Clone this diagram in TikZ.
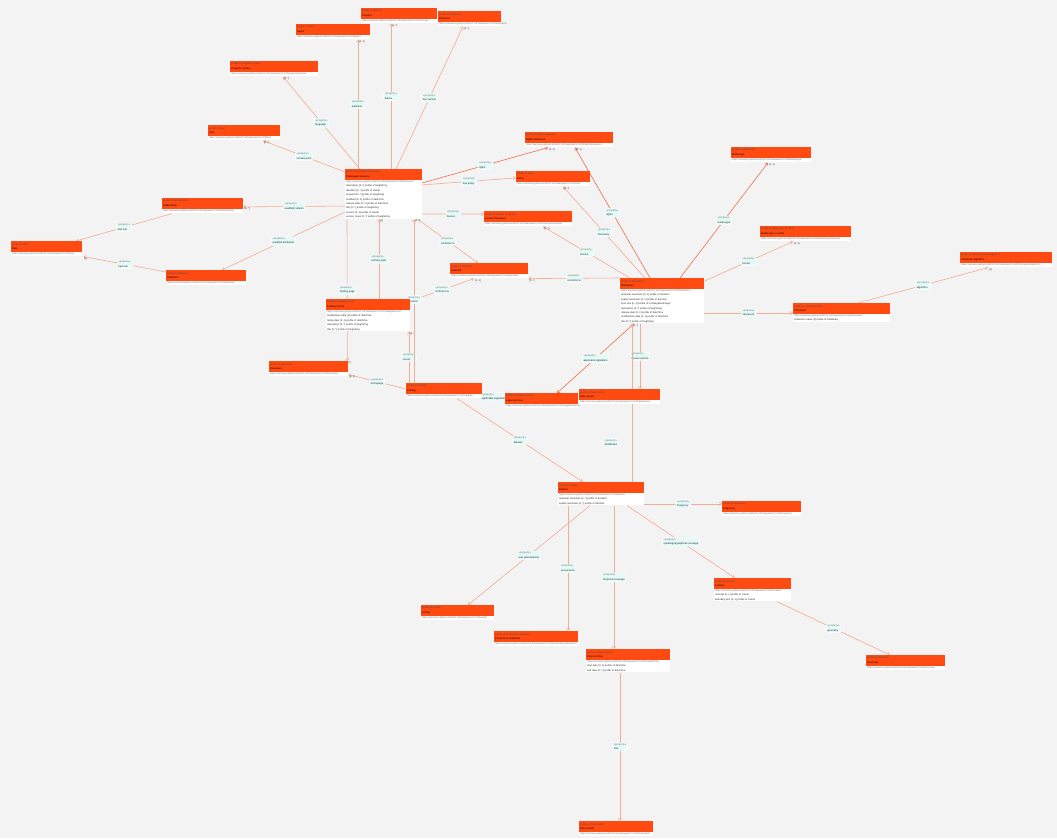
\documentclass[tikz,border=0pt]{standalone}
\usepackage{fontspec}
\newfontfamily\shapefam{Liberation Sans}
\usetikzlibrary{arrows.meta,backgrounds}

\definecolor{canvas}{RGB}{242,243,242}
\definecolor{shapeorange}{RGB}{255,74,18}
\definecolor{relcolor}{RGB}{244,172,150}
\definecolor{hotcolor}{RGB}{240,110,76}
\definecolor{propfill}{RGB}{228,250,247}
\definecolor{urlgray}{RGB}{110,110,110}

\newcommand{\shapefont}{\shapefam\fontsize{2.5}{4.4}\selectfont}
\newcommand{\propfont}{\shapefam\fontsize{2.6}{4.4}\selectfont}
\newcommand{\cardfont}{\shapefam\fontsize{2.5}{3}\selectfont}
\newcommand{\prf}[1]{{\color{black!70}profile of #1}}
\newcommand{\uri}[1]{\mbox{\color{urlgray}https://semiceu.github.io/DCAT-AP/releases/3.0.0/\##1}}
\newcommand{\pp}[1]{{\color{black!55}«property»}\\#1}

\tikzset{
  hdr/.style={anchor=north west, fill=shapeorange, inner xsep=1pt, inner ysep=0.8pt,
    minimum height=10.5pt, align=left, font=\shapefont, text=black},
  bdy/.style={anchor=north west, fill=white, inner xsep=1pt, inner ysep=0.6pt,
    minimum height=4.3pt, align=left, font=\shapefont, text=black!85},
  rel/.style={draw=relcolor, line width=0.6pt, ->},
  hot/.style={draw=hotcolor, line width=0.6pt, ->},
  prop/.style={fill=propfill, draw=white, line width=0.4pt, rounded corners=1.5pt,
    inner xsep=1.2pt, inner ysep=1pt, align=left, font=\propfont, text=black!85},
  card/.style={anchor=north west, inner sep=0.8pt, font=\cardfont, text=black!75}
}

\begin{document}
\begin{tikzpicture}[x=1pt, y=-1pt, >={Straight Barb[length=2.2pt,width=3.2pt]}]
\useasboundingbox (0,0) rectangle (1057,838);
\begin{scope}[on background layer]
  \fill[canvas] (0,0) rectangle (1057,838);
\end{scope}

% top row
\node[hdr, text width=72pt] (agent) at (296,24) {\prf{Agent}\\Agent};
\node[bdy, text width=72pt] (agent-b) at (agent.south west) {\uri{Agent}};
\node[hdr, text width=74pt] (concept) at (361,8) {\prf{Concept}\\Concept};
\node[bdy, text width=74pt] (concept-b) at (concept.south west) {\uri{Concept}};
\node[hdr, text width=61pt] (relres) at (438,11) {\prf{Resource}\\Resource};
\node[bdy, text width=61pt] (relres-b) at (relres.south west) {\uri{Resource}};
\node[hdr, text width=86pt] (lingsys) at (230,61) {\prf{Linguistic system}\\Linguistic system};
\node[bdy, text width=86pt] (lingsys-b) at (lingsys.south west) {\uri{LinguisticSystem}};
\node[hdr, text width=70pt] (kind) at (208,125) {\prf{Kind}\\Kind};
\node[bdy, text width=70pt] (kind-b) at (kind.south west) {\uri{Kind}};

% catalogued resource
\node[hdr, text width=75pt] (catres) at (345,169) {\prf{Catalogued resource}\\Catalogued resource};
\node[bdy, text width=75pt] (catres-b) at (catres.south west) {\uri{Resource}\\
  description [0..*] profile of langString\\
  identifier [0..*] profile of Literal\\
  keyword [0..*] profile of langString\\
  modified [0..1] profile of dateTime\\
  release date [0..1] profile of dateTime\\
  title [0..*] profile of langString\\
  version [0..1] profile of Literal\\
  version notes [0..*] profile of langString};

% left side
\node[hdr, text width=79pt] (relship) at (162,198) {\prf{Relationship}\\Relationship};
\node[bdy, text width=79pt] (relship-b) at (relship.south west) {\uri{Relationship}};
\node[hdr, text width=69pt] (role) at (11,241) {\prf{Role}\\Role};
\node[bdy, text width=69pt] (role-b) at (role.south west) {\uri{Role}};
\node[hdr, text width=78pt] (attrib) at (166,270) {\prf{Attribution}\\Attribution};
\node[bdy, text width=78pt] (attrib-b) at (attrib.south west) {\uri{Attribution}};

% shared targets
\node[hdr, text width=86pt] (rights) at (525,132) {\prf{Rights statement}\\Rights statement};
\node[bdy, text width=86pt] (rights-b) at (rights.south west) {\uri{RightsStatement}};
\node[hdr, text width=72pt] (policy) at (516,171) {\prf{Policy}\\Policy};
\node[bdy, text width=72pt] (policy-b) at (policy.south west) {\uri{Policy}};
\node[hdr, text width=86pt] (licence) at (484,211) {\prf{Licence document}\\Licence document};
\node[bdy, text width=86pt] (licence-b) at (licence.south west) {\uri{LicenceDocument}};
\node[hdr, text width=76pt] (standard) at (450,263) {\prf{Standard}\\Standard};
\node[bdy, text width=76pt] (standard-b) at (standard.south west) {\uri{Standard}};

% distribution
\node[hdr, text width=82pt] (distrib) at (620,278) {\prf{Distribution}\\Distribution};
\node[bdy, text width=82pt] (distrib-b) at (distrib.south west) {\uri{Distribution}\\
  temporal resolution [0..1] profile of duration\\
  spatial resolution [0..1] profile of decimal\\
  byte size [0..1] profile of nonNegativeInteger\\
  description [0..*] profile of langString\\
  release date [0..1] profile of dateTime\\
  modification date [0..1] profile of dateTime\\
  title [0..*] profile of langString};

% right side
\node[hdr, text width=78pt] (mediatype) at (731,147) {\prf{Media type}\\Media type};
\node[bdy, text width=78pt] (mediatype-b) at (mediatype.south west) {\uri{MediaType}};
\node[hdr, text width=89pt] (format) at (760,226) {\prf{Media type or extent}\\Media type or extent};
\node[bdy, text width=89pt] (format-b) at (format.south west) {\uri{MediaTypeOrExtent}};
\node[hdr, text width=90pt] (algo) at (960,252) {\prf{spdx:ChecksumAlgorithm}\\Checksum algorithm};
\node[bdy, text width=90pt] (algo-b) at (algo.south west) {\uri{ChecksumAlgorithm}};
\node[hdr, text width=95pt] (checksum) at (793,303) {\prf{spdx:Checksum}\\Checksum};
\node[bdy, text width=95pt] (checksum-b) at (checksum.south west) {\uri{Checksum}\\
  checksum value [1] profile of hexBinary};

% catalog record, document, catalog
\node[hdr, text width=82pt] (catrec) at (326,299) {\prf{Catalog record}\\Catalog record};
\node[bdy, text width=82pt] (catrec-b) at (catrec.south west) {\uri{CatalogRecord}\\
  modification date [1] profile of dateTime\\
  listing date [0..1] profile of dateTime\\
  description [0..*] profile of langString\\
  title [0..*] profile of langString};
\node[hdr, text width=77pt] (document) at (269,361) {\prf{Document}\\Document};
\node[bdy, text width=77pt] (document-b) at (document.south west) {\uri{Document}};
\node[hdr, text width=74pt] (catalog) at (406,383) {\prf{Catalog}\\Catalog};
\node[bdy, text width=74pt] (catalog-b) at (catalog.south west) {\uri{Catalog}};
\node[hdr, text width=71pt] (legal) at (505,393) {\prf{Legal resource}\\Legal resource};
\node[bdy, text width=71pt] (legal-b) at (legal.south west) {\uri{LegalResource}};
\node[hdr, text width=79pt] (dataserv) at (579,389) {\prf{Data service}\\Data service};
\node[bdy, text width=79pt] (dataserv-b) at (dataserv.south west) {\uri{DataService}};

% dataset and below
\node[hdr, text width=84pt] (dataset) at (558,482) {\prf{Dataset}\\Dataset};
\node[bdy, text width=84pt] (dataset-b) at (dataset.south west) {\uri{Dataset}\\
  temporal resolution [0..*] profile of duration\\
  spatial resolution [0..*] profile of decimal};
\node[hdr, text width=77pt] (freq) at (722,501) {\prf{Frequency}\\Frequency};
\node[bdy, text width=77pt] (freq-b) at (freq.south west) {\uri{Frequency}};
\node[hdr, text width=75pt] (location) at (714,578) {\prf{Location}\\Location};
\node[bdy, text width=75pt] (location-b) at (location.south west) {\uri{Location}\\
  centroid [0..1] profile of Literal\\
  bounding box [0..1] profile of Literal};
\node[hdr, text width=71pt] (activity) at (421,605) {\prf{Activity}\\Activity};
\node[bdy, text width=71pt] (activity-b) at (activity.south west) {\uri{Activity}};
\node[hdr, text width=82pt] (provst) at (494,631) {\prf{Provenance statement}\\Provenance statement};
\node[bdy, text width=82pt] (provst-b) at (provst.south west) {\uri{ProvenanceStatement}};
\node[hdr, text width=82pt] (period) at (586,649) {\prf{Period of time}\\Period of time};
\node[bdy, text width=82pt] (period-b) at (period.south west) {\uri{PeriodOfTime}\\
  start date [0..1] profile of dateTime\\
  end date [0..1] profile of dateTime};
\node[hdr, text width=77pt] (geometry) at (866,655) {\prf{Geometry}\\Geometry};
\node[bdy, text width=77pt] (geometry-b) at (geometry.south west) {\uri{Geometry}};
\node[hdr, text width=72pt] (instant) at (579,821) {\prf{Time instant}\\Time instant};
\node[bdy, text width=72pt] (instant-b) at (instant.south west) {\uri{TimeInstant}};

\begin{scope}[on background layer]
% from catalogued resource
\draw[rel] ([xshift=13pt]catres.north west) -- node[prop]{\pp{publisher}} ([xshift=62pt]agent-b.south west) node[card]{[0..1]};
\draw[rel] ([xshift=46pt]catres.north west) -- node[prop]{\pp{theme}} ([xshift=30pt]concept-b.south west) node[card]{[0..*]};
\draw[rel] ([xshift=51pt]catres.north west) -- node[prop]{\pp{has version}} ([xshift=25pt]relres-b.south west) node[card]{[0..*]};
\draw[rel] ([xshift=15pt]catres.north west) -- node[prop]{\pp{language}} ([xshift=53pt]lingsys-b.south west) node[card]{[0..*]};
\draw[rel] ([yshift=-3pt]catres.north west) -- node[prop]{\pp{contact point}} ([xshift=55pt]kind-b.south west) node[card]{[0..*]};
\draw[rel] ([yshift=13pt]catres-b.south west) -- node[prop]{\pp{qualified relation}} ([yshift=2pt]relship.south east) node[card]{[0..*]};
\draw[rel] ([yshift=7pt]catres-b.south west) -- node[prop]{\pp{qualified attribution}} ([xshift=56pt]attrib.north west) node[card]{[0..*]};
\draw[hot] ([yshift=-3pt]catres-b.north east) -- node[prop]{\pp{rights}} ([xshift=23pt]rights-b.south west) node[card]{[0..1]};
\draw[rel] ([yshift=-5pt]catres-b.north east) -- node[prop]{\pp{has policy}} ([yshift=4pt]policy.south west) node[card]{[0..*]};
\draw[rel] ([yshift=5pt]catres-b.south east) -- node[prop]{\pp{licence}} ([yshift=-3pt]licence.north west) node[card]{[0..1]};
\draw[rel] ([xshift=-5pt]catres-b.south east) -- node[prop]{\pp{conforms to}} ([xshift=28pt]standard.north west) node[card]{[0..*]};
\draw[rel] ([xshift=2pt]catres-b.south west) -- node[prop]{\pp{landing page}} ([xshift=-1pt]document.north east) node[card]{[*]};
% relationship, attribution
\draw[rel] ([xshift=10pt]relship-b.south west) -- node[prop]{\pp{had role}} ([xshift=65pt]role.north west) node[card]{[1]};
\draw[rel] ([yshift=-2pt]attrib.north west) -- node[prop]{\pp{had role}} ([xshift=1pt]role-b.south east) node[card]{[1]};
% catalog record
\draw[rel] ([xshift=53pt]catrec.north west) -- node[prop]{\pp{primary topic}} ([xshift=34pt]catres-b.south west) node[card]{[1]};
\draw[rel] ([yshift=-2pt]catrec.north east) -- node[prop]{\pp{conforms to}} ([xshift=24pt]standard-b.south west) node[card]{[0..1]};
% catalog
\draw[rel] ([xshift=3pt]catalog.north west) -- node[prop]{\pp{record}} ([xshift=83pt]catrec-b.south west) node[card]{[0..*]};
\draw[rel] ([xshift=8pt]catalog.north west) -- node[prop, pos=0.51]{\pp{resource}} ([xshift=69pt]catres-b.south west) node[card]{[0..*]};
\draw[rel] ([yshift=5pt]catalog.south west) -- node[prop]{\pp{homepage}} ([yshift=2pt]document-b.south east) node[card]{[0..1]};
\draw[rel] ([yshift=-3pt]catalog.south east) -- node[prop]{\pp{applicable legislation}} ([yshift=7pt]legal.south west);
\draw[rel] ([xshift=51pt]catalog-b.south west) -- node[prop]{\pp{dataset}} ([xshift=25pt]dataset.north west) node[card]{[0..*]};
% distribution
\draw[hot] ([xshift=30pt]distrib.north west) -- node[prop]{\pp{rights}} ([xshift=50pt]rights-b.south west) node[card]{[0..1]};
\draw[rel] ([xshift=25pt]distrib.north west) -- node[prop]{\pp{has policy}} ([xshift=47pt]policy-b.south west) node[card]{[0..*]};
\draw[rel] ([xshift=10pt]distrib.north west) -- node[prop]{\pp{licence}} ([xshift=59pt]licence-b.south west) node[card]{[0..1]};
\draw[rel] (distrib.north west) -- node[prop]{\pp{conforms to}} (standard-b.south east) node[card]{[0..*]};
\draw[hot] ([xshift=60pt]distrib.north west) -- node[prop]{\pp{media type}} ([xshift=37pt]mediatype-b.south west) node[card]{[0..1]};
\draw[rel] ([yshift=-3pt]distrib.north east) -- node[prop]{\pp{format}} ([xshift=33pt]format-b.south west) node[card]{[0..1]};
\draw[rel] ([yshift=-24pt]distrib-b.north east) -- node[prop]{\pp{checksum}} ([yshift=1pt]checksum.south west);
\draw[rel] ([xshift=65pt]checksum.north west) -- node[prop]{\pp{algorithm}} ([xshift=28pt]algo-b.south west) node[card]{[1]};
\draw[hot] ([xshift=14pt]distrib-b.south west) -- node[prop]{\pp{applicable legislation}} ([xshift=52pt]legal.north west);
\draw[rel] ([xshift=20pt]distrib-b.south west) -- node[prop]{\pp{access service}} ([xshift=61pt]dataserv.north west);
% dataset
\draw[rel] ([xshift=74pt]dataset.north west) -- node[prop, pos=0.25, xshift=-21pt]{\pp{distribution}} ([xshift=12pt]distrib-b.south west) node[card]{[0..*]};
\draw[rel] ([yshift=-11pt]dataset-b.north east) -- node[prop]{\pp{frequency}} ([yshift=8pt]freq.south west);
\draw[rel] ([xshift=69pt]dataset-b.south west) -- node[prop]{\pp{spatial/geographical coverage}} ([xshift=21pt]location.north west);
\draw[rel] ([xshift=32pt]dataset-b.south west) -- node[prop]{\pp{was generated by}} ([xshift=47pt]activity.north west);
\draw[rel] ([xshift=10pt]dataset-b.south west) -- node[prop]{\pp{provenance}} ([xshift=74pt]provst.north west);
\draw[rel] ([xshift=56pt]dataset-b.south west) -- node[prop]{\pp{temporal coverage}} ([xshift=28pt]period.north west);
\draw[rel] ([xshift=34pt]period-b.south west) -- node[prop]{\pp{end}} ([xshift=41pt]instant.north west);
\draw[rel] ([xshift=63pt]location-b.south west) -- node[prop]{\pp{geometry}} ([xshift=24pt]geometry.north west);
\end{scope}
\end{tikzpicture}
\end{document}
